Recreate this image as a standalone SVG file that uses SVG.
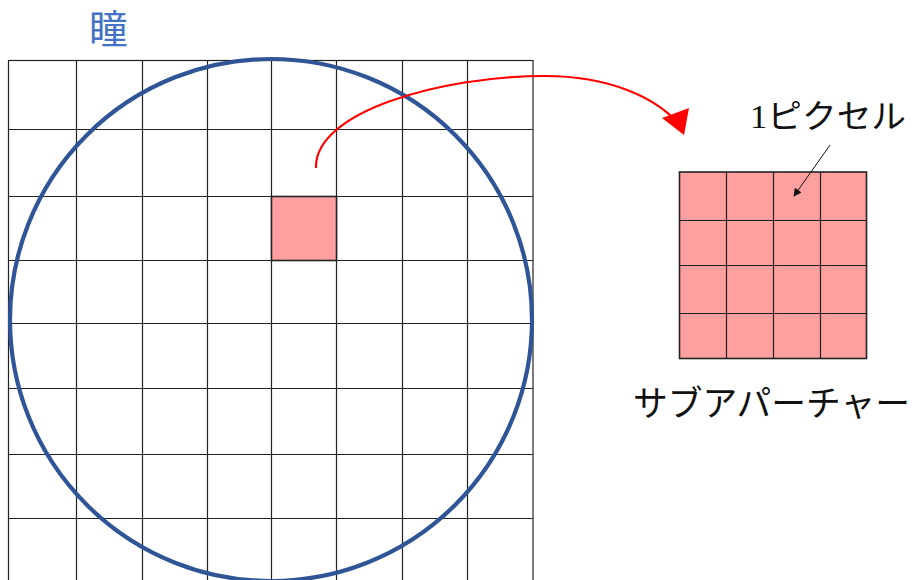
<svg xmlns="http://www.w3.org/2000/svg" width="914" height="580" viewBox="0 0 914 580">
<defs>
<style>
.grid{fill:none;stroke:#222;stroke-width:1.2}
.pink{fill:#FFA0A0;stroke:#222;stroke-width:1.6}
.jp{font-family:"Liberation Serif","Noto Sans CJK JP",serif;fill:#111}
</style>
<marker id="blackHead" viewBox="0 0 10 10" refX="9" refY="5" markerWidth="10" markerHeight="8" markerUnits="userSpaceOnUse" orient="auto">
<path d="M0,0 L10,5 L0,10 z" fill="#111"/>
</marker>
</defs>
<rect width="914" height="580" fill="#fff"/>
<g id="pupil-grid">
<rect class="grid" x="8.5" y="60.5" width="524.5" height="525"/>
<path class="grid" d="M76.5,60V580 M142.5,60V580 M207.5,60V580 M271.5,60V580 M336.5,60V580 M402.5,60V580 M467.5,60V580 M8,129.5H533 M8,196.5H533 M8,260.5H533 M8,323.5H533 M8,388.5H533 M8,454.5H533 M8,518.5H533"/>
<rect id="selected-pixel" class="pink" x="271.5" y="196.5" width="65" height="64" stroke-width="2"/>
</g>
<g id="pupil">
<circle cx="271" cy="320" r="261" fill="none" stroke="#2F5597" stroke-width="4.2"/>
<text x="89" y="43" font-family="Liberation Serif,'Noto Sans CJK JP',serif" font-size="39" fill="#4472C4">瞳</text>
</g>
<g id="subaperture">
<rect class="pink" x="679.5" y="172" width="187" height="186.5"/>
<path class="grid" d="M726.5,172V358 M773.5,172V358 M820.5,172V358 M679,220.5H867 M679,265.5H867 M679,313.5H867"/>
<text class="jp" x="633" y="416" font-size="35" textLength="277" lengthAdjust="spacingAndGlyphs">サブアパーチャー</text>
</g>
<g id="pixel-label">
<text class="jp" x="750" y="128" font-size="33" textLength="156" lengthAdjust="spacingAndGlyphs">1ピクセル</text>
</g>
<g id="connectors">
<path d="M316,168 C314,112 440,76 545,76 C610,76 655,98 677,122" fill="none" stroke="#FF0000" stroke-width="2.2"/>
<path d="M662,118 L689,108 L684,135 z" fill="#FF0000"/>
<path d="M830,145 L794,196" fill="none" stroke="#111" stroke-width="1" marker-end="url(#blackHead)"/>
</g>
</svg>
